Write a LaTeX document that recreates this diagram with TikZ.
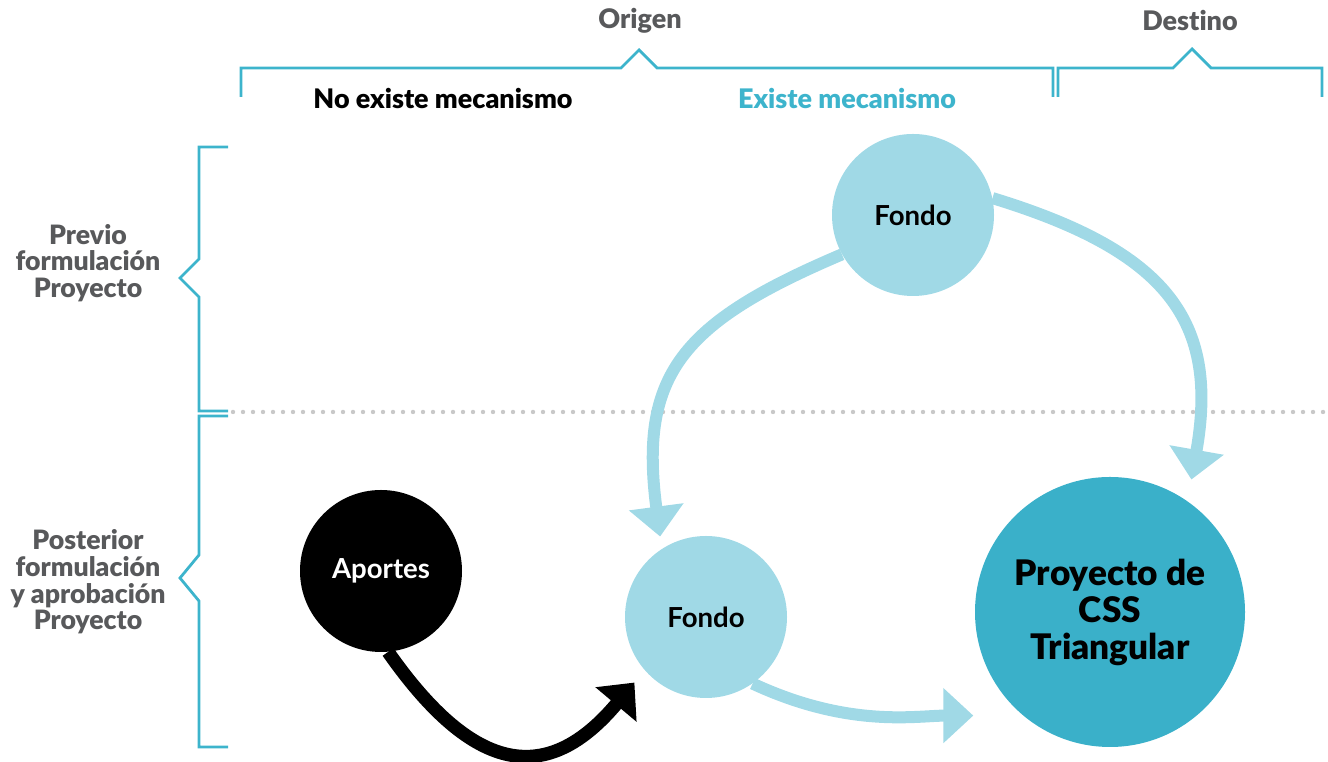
\documentclass[tikz,border=0pt]{standalone}
\usepackage{fontspec}
\setmainfont{Lato}
\newfontfamily\latoblack{Lato Black}[Ligatures=NoCommon]
\usepackage{xcolor}
\usepackage{tikz}
\usetikzlibrary{positioning,calc,arrows.meta}

\definecolor{fondoblue}{HTML}{A0D9E6}
\definecolor{cssteal}{HTML}{3AB0C9}
\definecolor{braceblue}{HTML}{3DB4CC}
\definecolor{labelgray}{HTML}{58595B}
\definecolor{dotgray}{HTML}{C8C8C8}

\begin{document}
\begin{tikzpicture}[x=0.75pt, y=0.75pt,
    brace/.style={draw=braceblue, line width=2.1pt},
    heading/.style={font=\fontsize{20.2}{23}\selectfont\latoblack},
    sidelabel/.style={font=\fontsize{20}{20}\selectfont\latoblack, text=labelgray, align=center},
    bubble/.style={circle, inner sep=0pt, minimum size=121.5pt, align=center, font=\fontsize{20.7}{24}\selectfont\bfseries},
    flow/.style={draw=fondoblue, line width=9pt, -{Triangle[length=22.5pt, width=40pt]}},
    push/.style={draw=black, line width=10pt, -{Triangle[length=21.5pt, width=39pt]}}]
  \useasboundingbox (0,0) rectangle (1328,762);

  % Column headings
  \node[heading, text=labelgray] (origen) at (640,741) {Origen};
  \node[heading, text=labelgray] (destino) at (1190,741) {Destino};
  \node[heading] (nomec) at (443,663) {No existe mecanismo};
  \node[heading, text=braceblue] (simec) at (847,663) {Existe mecanismo};

  % Top braces
  \draw[brace] (241,665) -- (241,694) -- (621,694) -- (639,712) -- (657,694) -- (1053,694) -- (1053,665);
  \draw[brace] (1058,665) -- (1058,694) -- (1173,694) -- (1192,713) -- (1211,694) -- (1322,694) -- (1322,665);

  % Row labels and side braces
  \node[sidelabel] (previo) at (88,499) {Previo\\formulación\\Proyecto};
  \node[sidelabel] (posterior) at (88,180) {Posterior\\formulación\\y aprobación\\Proyecto};
  \draw[brace] (228,615) -- (199,615) -- (199,503) -- (180,484) -- (199,465) -- (199,351) -- (228,351);
  \draw[brace] (228,346) -- (199,346) -- (199,207) -- (180,184) -- (199,161) -- (199,15) -- (228,15);

  % Divider
  \draw[dotgray, line width=3.3pt, line cap=round, dash pattern=on 0pt off 7.5pt] (233,350) -- (1328,350);

  % Circles
  \node[bubble, fill=fondoblue] (fondoA) at (913,547) {Fondo};
  \node[bubble, fill=black, text=white] (aportes) at (381,191) {Aportes};
  \node[bubble, fill=fondoblue] (fondoB) at (706,145) {Fondo};
  \node[bubble, fill=cssteal, minimum size=202.5pt, font=\fontsize{26.4}{27.75}\selectfont\latoblack] (proyecto) at (1110,150) {Proyecto de\\CSS\\Triangular};

  % Flows
  \draw[flow, shorten >=9.3pt] (fondoA.209) to[out=203, in=97.5, looseness=1.3] (fondoB.123);
  \draw[flow, shorten >=16.5pt] (fondoA.12) to[out=-17, in=80, looseness=1.3] (proyecto.55);
  \draw[flow, shorten >=37.3pt] (fondoB.-55) to[out=-25, in=180] (proyecto.230);
  \draw[push, shorten >=12pt] (aportes.-85) to[out=-55, in=230, looseness=1.5] (fondoB.221);
\end{tikzpicture}
\end{document}
